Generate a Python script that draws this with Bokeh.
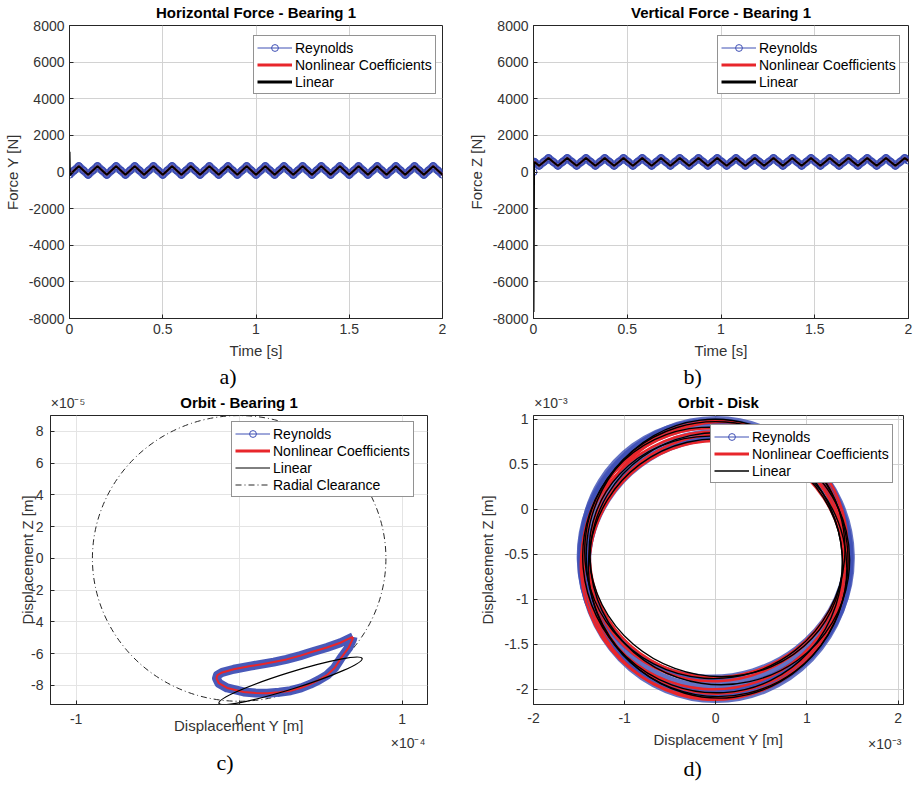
import numpy as np
from bokeh.plotting import figure
from bokeh.models import (Range1d, Legend, LegendItem, Title, FixedTicker,
                          CustomJSTickFormatter, LinearAxis)
from bokeh.layouts import column, row
from bokeh.embed import file_html
from bokeh.resources import INLINE

# ============================ DATA ============================
# --- a) Horizontal force, bearing 1 (sampled every 0.025 s) ---
time_a = np.linspace(0.0, 2.0, 81)
fy_reynolds = [
    -150,
    85, 320, 85, -150, 85, 320, 85, -150,
    85, 320, 85, -150, 85, 320, 85, -150,
    85, 320, 85, -150, 85, 320, 85, -150,
    85, 320, 85, -150, 85, 320, 85, -150,
    85, 320, 85, -150, 85, 320, 85, -150,
    85, 320, 85, -150, 85, 320, 85, -150,
    85, 320, 85, -150, 85, 320, 85, -150,
    85, 320, 85, -150, 85, 320, 85, -150,
    85, 320, 85, -150, 85, 320, 85, -150,
    85, 320, 85, -150, 85, 320, 85, -150,
]
fy_nonlinear = list(fy_reynolds)
time_lin_a = [0.0, 0.002] + list(time_a[1:])
fy_linear = [1100, -180] + fy_reynolds[1:]

# --- b) Vertical force, bearing 1 ---
time_b = list(np.round(np.arange(0.005, 2.0, 0.025), 3)) + [2.0]
fz_cycle = [
    550, 340, 550, 760, 550, 340, 550, 760,
    550, 340, 550, 760, 550, 340, 550, 760,
    550, 340, 550, 760, 550, 340, 550, 760,
    550, 340, 550, 760, 550, 340, 550, 760,
    550, 340, 550, 760, 550, 340, 550, 760,
    550, 340, 550, 760, 550, 340, 550, 760,
    550, 340, 550, 760, 550, 340, 550, 760,
    550, 340, 550, 760, 550, 340, 550, 760,
    550, 340, 550, 760, 550, 340, 550, 760,
    550, 340, 550, 760, 550, 340, 550, 760,
    620,
]
time_rey_b = [0.0, 0.0] + time_b
fz_reynolds = [0, 500] + fz_cycle
time_nl_b = [0.0] + time_b
fz_nonlinear = [500] + fz_cycle
time_lin_b = [0.0, 0.003] + time_b
fz_linear = [-7640, 480] + fz_cycle

# --- c) Orbit, bearing 1 (units of 1e-5 m) ---
ORBIT_C_UNIT = 1e-5
orbit_c_y = [6.98, 6.60, 6.21, 5.38, 4.50, 3.76, 2.90, 2.12, 1.40, 0.69,
             -0.33, -1.04, -1.33, -1.39, -1.25, -0.74, 0.28, 1.00, 1.72, 2.45,
             3.15, 3.80, 4.37, 4.90, 5.39, 5.85, 6.21, 6.72, 6.95, 6.98]
orbit_c_z = [-4.94, -5.12, -5.31, -5.61, -5.88, -6.12, -6.36, -6.53, -6.66, -6.78,
             -6.98, -7.18, -7.35, -7.55, -7.86, -8.16, -8.41, -8.47, -8.49, -8.43,
             -8.33, -8.15, -7.92, -7.65, -7.35, -6.90, -6.33, -5.61, -5.10, -4.94]
lin_c_center = (3.15e-5, -7.71e-5)
lin_c_major = 9.2e-5
lin_c_minor = 1.05e-5
lin_c_angle = 0.303
radial_clearance = 9.0e-5

# --- d) Orbit, disk (units of 1e-3 m): successive loops as ellipses ---
ORBIT_D_UNIT = 1e-3
rey_d_cx = [0.00, 0.02, -0.03, 0.02, -0.01, 0.03, 0.00]
rey_d_cy = [-0.56, -0.53, -0.55, -0.65, -0.47, -0.56, -0.535]
rey_d_w = [2.96, 2.86, 2.92, 2.88, 2.94, 2.90, 2.98]
rey_d_h = [3.12, 2.66, 2.94, 2.86, 2.86, 2.84, 3.03]
rey_d_ang = [0.00, 0.30, -0.35, 0.55, -0.55, 0.15, 0.80]
nl_d_cx = [0.00, 0.02, -0.03, 0.01, 0.03, -0.02]
nl_d_cy = [-0.57, -0.54, -0.55, -0.645, -0.45, -0.62]
nl_d_w = [2.90, 2.84, 2.88, 2.80, 2.86, 2.92]
nl_d_h = [3.10, 2.72, 2.90, 2.81, 2.80, 2.96]
nl_d_ang = [-0.10, 0.40, -0.45, 0.20, 0.65, -0.30]
lin_d_cx = [0.015, 0.00, -0.035, 0.045, -0.01, 0.02]
lin_d_cy = [-0.55, -0.525, -0.565, -0.55, -0.455, -0.65]
lin_d_w = [2.87, 2.80, 2.83, 2.85, 2.86, 2.84]
lin_d_h = [3.10, 2.65, 2.97, 2.80, 2.85, 2.86]
lin_d_ang = [0.12, -0.35, 0.45, -0.15, 0.30, -0.55]

# --- ticks ---
ticks_time = [0, 0.5, 1, 1.5, 2]
ticks_force = [-8000, -6000, -4000, -2000, 0, 2000, 4000, 6000, 8000]
ticks_c_y = [-1e-4, 0, 1e-4]
ticks_c_z = [-8e-5, -6e-5, -4e-5, -2e-5, 0, 2e-5, 4e-5, 6e-5, 8e-5]
ticks_d_y = [-2e-3, -1e-3, 0, 1e-3, 2e-3]
ticks_d_z = [-2e-3, -1.5e-3, -1e-3, -0.5e-3, 0, 0.5e-3, 1e-3]

# ============================ STYLE ============================
FONT = "Liberation Sans"
SERIF = "Liberation Serif"
BLUE = "#3f50b5"
BLUE_M = "#3444b0"
RED = "#e8262b"
DARK = "#262626"
TXT = "#333333"
PAD = "\u2002" * 5   # en-spaces: shift a centred axis label to one side


def fmt(scale):
    return CustomJSTickFormatter(args=dict(s=scale),
                                 code="return (Math.round(tick*s*1000)/1000).toString();")


def text_axis(p, side, text, align, standoff, size="14px", style="normal", color=TXT):
    ax = LinearAxis(ticker=FixedTicker(ticks=[]), axis_label=text,
                    axis_label_align=align, axis_line_color=None,
                    major_tick_line_color=None, minor_tick_line_color=None,
                    major_tick_in=0, major_tick_out=0, major_label_standoff=0,
                    axis_label_standoff=standoff,
                    axis_label_text_font=FONT, axis_label_text_font_size=size,
                    axis_label_text_font_style=style, axis_label_text_color=color)
    p.add_layout(ax, side)


def make_fig(w, h, bl, br, bt, bb, xr, yr, title, xt, yt, xs, ys, xlabel, ylabel,
             grid="#d2d2d2"):
    p = figure(width=w, height=h, x_range=Range1d(*xr), y_range=Range1d(*yr),
               output_backend="svg", toolbar_location=None, title=None,
               min_border_left=bl, min_border_right=br, min_border_top=bt,
               min_border_bottom=bb)
    xa = p.below[0]
    ya = p.left[0]
    xa.ticker = FixedTicker(ticks=xt)
    ya.ticker = FixedTicker(ticks=yt)
    xa.formatter = fmt(xs)
    ya.formatter = fmt(ys)
    xa.axis_label = xlabel
    ya.axis_label = ylabel
    for ax in (xa, ya):
        ax.major_tick_in = 4
        ax.major_tick_out = 0
        ax.minor_tick_line_color = None
        ax.axis_line_color = DARK
        ax.major_tick_line_color = DARK
        ax.major_label_text_font = FONT
        ax.major_label_text_font_size = "14px"
        ax.major_label_text_color = TXT
        ax.axis_label_text_font = FONT
        ax.axis_label_text_font_size = "15px"
        ax.axis_label_text_font_style = "normal"
        ax.axis_label_text_color = TXT
    p.xgrid.grid_line_color = grid
    p.ygrid.grid_line_color = grid
    p.outline_line_color = DARK
    p.outline_line_alpha = 1
    p.background_fill_color = "white"
    p.border_fill_color = "white"
    # plot title (drawn as a label-only axis so that its place is exact)
    text_axis(p, "above", title, "center", 5, size="15px", style="bold", color="black")
    return p, xa, ya


def add_legend(p, items, loc):
    leg = Legend(items=items, location=loc, padding=3, spacing=0, margin=0,
                 glyph_width=35, glyph_height=17, label_height=17, label_standoff=3,
                 label_text_font=FONT, label_text_font_size="14px",
                 label_text_color="black",
                 border_line_color=DARK, border_line_width=1,
                 background_fill_color="white", background_fill_alpha=1)
    p.add_layout(leg)


def proxies(p, red_w, black_w, clearance=False):
    r1 = p.line(x=[np.nan], y=[np.nan], line_color=BLUE, line_width=1)
    r2 = p.scatter(x=[np.nan], y=[np.nan], marker="circle", size=7,
                   fill_color=None, line_color=BLUE, line_width=1)
    r3 = p.line(x=[np.nan], y=[np.nan], line_color=RED, line_width=red_w)
    r4 = p.line(x=[np.nan], y=[np.nan], line_color="black", line_width=black_w)
    items = [LegendItem(label="Reynolds", renderers=[r1, r2]),
             LegendItem(label="Nonlinear Coefficients", renderers=[r3]),
             LegendItem(label="Linear", renderers=[r4])]
    if clearance:
        r5 = p.line(x=[np.nan], y=[np.nan], line_color=DARK, line_width=1,
                    line_dash="6 3 1 3")
        items.append(LegendItem(label="Radial Clearance", renderers=[r5]))
    return items


def sub_label(p, text, offset, standoff):
    t = Title(text=text, align="left", offset=offset, text_font=SERIF,
              text_font_size="22px", text_font_style="normal", text_color="black",
              standoff=standoff)
    p.add_layout(t, "below")


def exp_title(p, text, standoff, valign):
    t = Title(text=text, align="right", offset=2, text_font=FONT,
              text_font_size="14px", text_font_style="normal", text_color=TXT,
              standoff=standoff, vertical_align=valign)
    p.add_layout(t, "below")


# ============================ PANEL A ============================
pa, xa_a, ya_a = make_fig(456, 390, 66, 14, 25, 72, (0, 2), (-8000, 8000),
                          "Horizontal Force - Bearing 1", ticks_time, ticks_force, 1, 1,
                          "Time [s]", "Force Y [N]")
pa.line(time_a, fy_reynolds, line_color=BLUE, line_width=8, line_alpha=0.9,
        line_join="round")
pa.scatter(time_a, fy_reynolds, marker="circle", size=7, fill_color=None,
           line_color=BLUE_M, line_width=1)
pa.line(time_a, fy_nonlinear, line_color=RED, line_width=2)
pa.line(time_lin_a, fy_linear, line_color="black", line_width=2)
add_legend(pa, proxies(pa, 3, 3), (184, 224))
sub_label(pa, "a)", 150, 0)

# ============================ PANEL B ============================
pb, xa_b, ya_b = make_fig(457, 390, 77, 5, 25, 72, (0, 2), (-8000, 8000),
                          "Vertical Force - Bearing 1", ticks_time, ticks_force, 1, 1,
                          "Time [s]", "Force Z [N]")
pb.line(time_rey_b[1:], fz_reynolds[1:], line_color=BLUE, line_width=8,
        line_alpha=0.9, line_join="round")
pb.scatter(time_rey_b, fz_reynolds, marker="circle", size=7, fill_color=None,
           line_color=BLUE_M, line_width=1)
pb.line(time_nl_b, fz_nonlinear, line_color=RED, line_width=2)
pb.line(time_lin_b, fz_linear, line_color="black", line_width=2)
add_legend(pb, proxies(pb, 3, 3), (184, 224))
sub_label(pb, "b)", 150, 0)

# ============================ PANEL C ============================
pc, xa_c, ya_c = make_fig(456, 400, 50, 29, 23, 80, (-1.157e-4, 1.155e-4),
                          (-9.2e-5, 9.0e-5), "Orbit - Bearing 1", ticks_c_y, ticks_c_z,
                          1e4, 1e5, "Displacement Y [m]", "Displacement Z [m]",
                          grid="#e4e4e4")
xa_c.major_label_standoff = 9
xa_c.axis_label_standoff = -10
ya_c.major_label_standoff = 7
ya_c.axis_label_standoff = -8
pc.ellipse(x=[0], y=[0], width=[2 * radial_clearance], height=[2 * radial_clearance],
           fill_color=None, line_color=DARK, line_width=1, line_dash="6 3 1 3")
cy = [v * ORBIT_C_UNIT for v in orbit_c_y]
cz = [v * ORBIT_C_UNIT for v in orbit_c_z]
pc.line(cy, cz, line_color=BLUE, line_width=9, line_alpha=0.95, line_join="round")
pc.line(cy, cz, line_color=RED, line_width=2, line_join="round")
pc.ellipse(x=[lin_c_center[0]], y=[lin_c_center[1]], width=[lin_c_major],
           height=[lin_c_minor], angle=[lin_c_angle], fill_color=None,
           line_color="black", line_width=1.2)
add_legend(pc, proxies(pc, 3, 1, clearance=True), (181, 207))
text_axis(pc, "above", PAD + "×10⁻⁵", "start", -20)
exp_title(pc, "×10⁻⁴", -7, "bottom")
sub_label(pc, "c)", 166, 0)

# ============================ PANEL D ============================
pd_, xa_d, ya_d = make_fig(457, 400, 77, 10, 23, 86, (-2.0e-3, 2.06e-3),
                           (-2.17e-3, 1.04e-3), "Orbit - Disk", ticks_d_y, ticks_d_z,
                           1e3, 1e3, "Displacement Y [m]", "Displacement Z [m]")
xa_d.major_label_standoff = 8
U = ORBIT_D_UNIT
pd_.ellipse(x=[v * U for v in rey_d_cx], y=[v * U for v in rey_d_cy],
            width=[v * U for v in rey_d_w], height=[v * U for v in rey_d_h],
            angle=rey_d_ang, fill_color=None, line_color=BLUE, line_width=6,
            line_alpha=0.8)
pd_.ellipse(x=[v * U for v in nl_d_cx], y=[v * U for v in nl_d_cy],
            width=[v * U for v in nl_d_w], height=[v * U for v in nl_d_h],
            angle=nl_d_ang, fill_color=None, line_color=RED, line_width=2.5)
pd_.ellipse(x=[v * U for v in lin_d_cx], y=[v * U for v in lin_d_cy],
            width=[v * U for v in lin_d_w], height=[v * U for v in lin_d_h],
            angle=lin_d_ang, fill_color=None, line_color="black", line_width=1.4)
add_legend(pd_, proxies(pd_, 3, 1.5), (177, 221))
text_axis(pd_, "above", PAD + "×10⁻³", "start", -20)
exp_title(pd_, "×10⁻³", -30, "top")
sub_label(pd_, "d)", 150, 6)

layout = column(row(pa, pb), row(pc, pd_))
open("out.html", "w").write(file_html(layout, INLINE))
